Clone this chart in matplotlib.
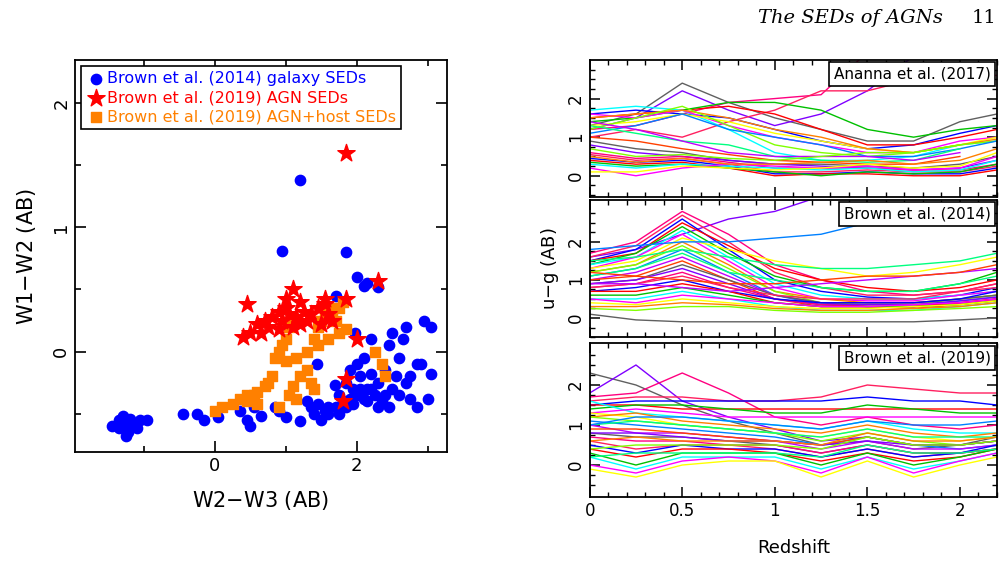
import matplotlib
matplotlib.use("Agg")
import matplotlib.pyplot as plt
import numpy as np

# ---------------- left panel data ----------------
gal_x = [-1.45,-1.35,-1.3,-1.28,-1.25,-1.2,-1.22,-1.15,-1.1,-1.05,-0.95,-1.3,-1.2,-1.35,-1.25,
         -0.45,-0.25,-0.15,0.05,0.35,0.45,0.55,0.5,0.65,0.85,0.9,1.0,1.2,1.3,1.35,1.4,1.45,1.5,1.55,
         1.6,1.7,1.75,1.8,1.85,1.9,1.95,2.0,2.05,2.1,2.15,2.2,2.25,2.3,2.35,2.4,2.5,2.6,2.7,2.75,2.85,
         3.0,3.05,2.9,2.75,2.6,2.4,2.2,2.1,2.0,1.9,2.2,2.45,2.65,2.7,2.85,3.05,2.95,2.55,2.15,1.85,1.6,
         2.3,2.45,1.2,0.95,1.85,2.0,2.1,2.15,2.3,1.7,1.44,1.69,1.97,2.49,1.95,1.75,2.05]
gal_y = [-0.6,-0.55,-0.58,-0.62,-0.55,-0.6,-0.65,-0.58,-0.62,-0.55,-0.55,-0.52,-0.54,-0.62,-0.68,
         -0.5,-0.5,-0.55,-0.53,-0.48,-0.55,-0.45,-0.6,-0.52,-0.45,-0.48,-0.53,-0.56,-0.4,-0.45,-0.5,-0.42,-0.55,-0.48,
         -0.5,-0.45,-0.35,-0.4,-0.45,-0.38,-0.42,-0.35,-0.3,-0.38,-0.4,-0.3,-0.35,-0.25,-0.4,-0.35,-0.3,-0.35,-0.25,-0.38,-0.45,
         -0.38,-0.18,-0.1,-0.2,-0.05,-0.15,-0.18,-0.05,-0.1,-0.15,0.1,0.05,0.1,0.2,-0.1,0.2,0.25,-0.2,-0.3,-0.25,-0.45,
         -0.45,-0.45,1.38,0.81,0.8,0.6,0.53,0.55,0.52,0.45,-0.1,-0.27,0.15,0.15,-0.3,-0.5,-0.2]
agn_x = [1.85,2.3,1.85,2.0,1.85,1.8,0.45,0.4,0.5,0.6,0.7,0.65,0.8,0.75,0.9,0.95,1.0,1.05,1.1,1.1,
         1.15,1.2,1.25,1.3,1.35,1.45,1.55,1.6,1.5,1.65,1.0,0.9,1.2,1.55]
agn_y = [1.6,0.57,0.42,0.1,-0.22,-0.4,0.38,0.12,0.15,0.22,0.25,0.15,0.28,0.2,0.32,0.25,0.35,0.3,0.5,0.2,
         0.28,0.4,0.32,0.25,0.3,0.35,0.38,0.3,0.22,0.25,0.42,0.18,0.22,0.42]
host_x = [0.0,0.1,0.35,0.45,0.45,0.55,0.6,0.7,0.75,0.8,0.85,0.9,0.95,1.0,1.05,1.1,0.9,1.05,1.1,1.15,
          1.2,1.15,1.3,1.3,1.35,1.4,1.45,1.5,1.55,1.6,1.65,1.7,1.75,1.8,1.75,1.85,1.45,1.6,2.25,2.35,
          2.4,1.0,1.4,0.25,0.6]
host_y = [-0.48,-0.45,-0.38,-0.4,-0.35,-0.35,-0.33,-0.28,-0.25,-0.2,-0.05,0.0,0.05,0.1,0.2,0.25,-0.45,-0.35,-0.28,-0.38,
          -0.2,-0.05,0.0,-0.15,-0.25,0.1,0.2,0.25,0.3,0.35,0.3,0.25,0.35,0.4,0.15,0.18,0.05,0.1,0.0,-0.1,
          -0.2,-0.08,-0.3,-0.42,-0.42]

# ---------------- right panel data ----------------
z = [0.0,0.25,0.5,0.75,1.0,1.25,1.5,1.75,2.0,2.2]
nan = np.nan
ananna = [
 [1.3,1.6,2.4,1.9,1.5,1.2,0.9,0.9,1.4,1.6],
 [1.2,1.5,2.2,1.7,1.3,1.6,2.2,3.1,nan,nan],
 [1.2,1.3,1.6,1.9,2.0,2.1,3.2,3.4,nan,nan],
 [1.0,1.2,1.0,1.4,1.7,2.2,2.2,2.5,2.6,2.6],
 [1.6,1.7,1.6,1.5,1.2,0.9,0.7,0.8,1.1,1.3],
 [1.5,1.6,1.7,1.8,1.6,1.2,0.8,0.8,1.0,1.2],
 [1.4,1.5,1.7,1.9,1.9,1.7,1.2,1.0,1.2,1.3],
 [1.7,1.8,1.7,1.2,0.6,0.4,0.4,0.5,0.8,0.9],
 [1.6,1.5,1.7,1.3,1.0,0.8,0.6,0.6,0.9,1.0],
 [1.3,1.4,1.6,1.4,1.1,0.9,0.7,0.6,0.8,1.0],
 [1.5,1.6,1.7,1.5,1.2,1.0,0.7,0.6,0.8,0.95],
 [1.2,1.5,1.8,1.3,0.8,0.6,0.5,0.6,0.8,0.9],
 [1.1,1.3,1.6,1.2,1.0,0.8,0.5,0.5,0.7,0.9],
 [1.3,1.1,0.9,0.8,0.5,0.4,0.35,0.4,0.7,nan],
 [1.4,1.2,0.9,0.6,0.5,0.5,0.5,0.4,0.6,nan],
 [1.0,0.9,0.7,0.55,0.4,0.35,0.3,0.3,0.5,nan],
 [0.9,0.7,0.6,0.4,0.3,0.3,0.25,0.2,0.3,0.5],
 [0.8,0.6,0.5,0.4,0.3,0.25,0.2,0.15,0.2,0.4],
 [0.6,0.45,0.5,0.35,0.2,0.2,0.2,0.15,0.15,0.3],
 [0.55,0.4,0.45,0.3,0.1,0.1,0.15,0.1,0.1,0.25],
 [0.45,0.35,0.4,0.25,0.05,0.05,0.1,0.05,0.05,0.2],
 [0.4,0.3,0.35,0.2,0.0,0.05,0.05,0.0,0.0,0.15],
 [0.35,0.25,0.3,0.2,0.1,0.0,0.1,0.05,0.1,0.3],
 [0.3,0.2,0.3,0.25,0.2,0.15,0.2,0.1,0.15,0.4],
 [0.2,0.0,0.2,0.3,0.25,0.2,0.25,0.15,0.2,0.5],
 [0.1,0.1,0.25,0.2,0.15,0.2,0.3,0.2,0.25,0.6],
 [0.5,0.35,0.45,0.3,0.3,0.35,0.4,0.3,0.4,0.7],
 [0.7,0.5,0.55,0.45,0.4,0.5,0.6,0.6,0.8,nan],
]
brown14 = [
 [0.1,-0.05,-0.1,-0.1,-0.1,-0.1,-0.1,-0.1,-0.05,0.0],
 [1.6,1.8,2.2,2.6,2.8,3.2,nan,nan,nan,nan],
 [1.7,2.0,2.8,2.2,1.4,1.0,0.7,0.6,0.7,0.9],
 [1.6,1.9,2.7,2.0,1.2,0.8,0.6,0.6,0.7,0.9],
 [1.5,1.8,2.6,1.8,1.0,0.7,0.55,0.5,0.6,0.8],
 [1.5,1.7,2.5,1.9,1.3,1.0,0.8,0.7,0.8,1.0],
 [1.4,1.7,2.4,1.7,1.1,0.8,0.7,0.7,0.9,1.2],
 [1.4,1.6,2.3,1.6,0.9,0.6,0.5,0.5,0.6,0.7],
 [1.3,1.6,2.2,1.5,0.8,0.5,0.45,0.45,0.6,0.7],
 [1.3,1.5,2.1,1.8,1.5,1.3,1.1,1.2,1.4,1.6],
 [1.2,1.4,2.0,1.4,0.7,0.5,0.4,0.4,0.5,0.6],
 [1.2,1.4,1.9,1.3,0.7,0.4,0.35,0.35,0.5,0.6],
 [1.1,1.3,1.8,1.2,0.6,0.35,0.3,0.3,0.45,0.55],
 [1.1,1.3,1.7,1.2,1.0,0.8,0.7,0.7,0.9,1.1],
 [1.0,1.2,1.6,1.1,0.6,0.4,0.3,0.3,0.4,0.5],
 [1.0,1.1,1.5,1.0,0.5,0.3,0.3,0.25,0.35,0.45],
 [0.9,1.0,1.4,1.0,0.6,0.4,0.4,0.4,0.5,0.6],
 [0.9,1.0,1.3,0.9,0.5,0.35,0.35,0.35,0.45,0.55],
 [0.8,0.9,1.2,0.8,0.5,0.35,0.3,0.3,0.4,0.5],
 [0.8,0.9,1.1,0.8,0.6,0.5,0.5,0.5,0.7,0.8],
 [0.7,0.8,1.0,0.7,0.5,0.4,0.4,0.4,0.5,0.7],
 [0.7,0.7,0.9,0.7,0.4,0.3,0.3,0.3,0.4,0.5],
 [0.6,0.6,0.8,0.6,0.4,0.3,0.3,0.3,0.35,0.45],
 [0.5,0.5,0.7,0.5,0.3,0.2,0.2,0.2,0.3,0.4],
 [0.5,0.4,0.6,0.5,0.4,0.3,0.3,0.35,0.4,0.5],
 [0.4,0.35,0.5,0.4,0.3,0.25,0.25,0.3,0.35,0.45],
 [0.3,0.3,0.4,0.35,0.25,0.2,0.2,0.25,0.3,0.4],
 [0.25,0.2,0.3,0.3,0.2,0.15,0.15,0.2,0.25,0.3],
 [1.8,1.9,2.0,2.0,2.1,2.2,2.5,2.9,nan,nan],
 [1.5,1.6,1.8,1.6,1.4,1.3,1.3,1.4,1.5,1.7],
 [0.9,0.9,0.8,0.7,0.8,0.9,1.0,1.1,1.2,1.3],
 [1.2,1.1,1.0,0.9,0.9,1.0,1.1,1.1,1.2,1.4],
]
brown19 = [
 [2.3,2.0,1.5,1.1,0.8,0.5,0.6,0.4,0.5,0.7],
 [1.8,2.5,1.6,1.2,0.9,0.6,0.7,0.5,0.5,0.6],
 [1.7,1.8,2.3,1.8,1.2,1.0,1.2,1.0,0.9,1.0],
 [1.6,1.7,1.7,1.6,1.6,1.7,2.0,1.9,1.8,1.8],
 [1.5,1.6,1.6,1.6,1.6,1.6,1.7,1.6,1.6,1.5],
 [1.5,1.5,1.4,1.4,1.4,1.4,1.4,1.4,1.4,1.4],
 [1.4,1.5,1.5,1.4,1.3,1.3,1.5,1.4,1.3,1.3],
 [1.6,1.3,1.2,1.1,1.0,0.9,1.1,0.9,0.8,0.8],
 [1.3,1.4,1.3,1.2,1.2,1.2,1.2,1.2,1.2,1.2],
 [1.3,1.2,1.0,0.9,0.8,0.7,0.9,0.7,0.6,0.7],
 [1.2,1.3,1.1,1.0,0.9,0.8,1.0,0.8,0.7,0.8],
 [1.2,1.1,1.0,0.9,0.8,0.6,0.8,0.6,0.5,0.6],
 [1.1,1.0,0.9,0.8,0.7,0.5,0.7,0.5,0.4,0.5],
 [1.0,1.1,1.0,0.9,0.8,0.7,0.9,0.7,0.7,0.7],
 [1.0,0.8,0.8,0.7,0.6,0.4,0.6,0.4,0.4,0.5],
 [0.9,0.9,0.8,0.7,0.6,0.5,0.7,0.5,0.5,0.6],
 [0.8,0.7,0.7,0.6,0.5,0.3,0.5,0.3,0.3,0.4],
 [0.8,0.8,0.7,0.6,0.6,0.5,0.6,0.5,0.5,0.6],
 [0.7,0.6,0.6,0.5,0.5,0.3,0.5,0.3,0.3,0.4],
 [0.6,0.4,0.5,0.5,0.4,0.2,0.4,0.2,0.3,0.4],
 [0.5,0.3,0.5,0.4,0.4,0.2,0.4,0.2,0.3,0.5],
 [0.4,0.2,0.4,0.4,0.3,0.1,0.3,0.1,0.2,0.4],
 [0.3,0.0,0.3,0.3,0.3,0.0,0.3,0.0,0.2,0.4],
 [0.2,-0.1,0.2,0.2,0.2,-0.1,0.2,-0.1,0.1,0.3],
 [0.0,-0.2,0.1,0.2,0.1,-0.2,0.2,-0.2,0.1,0.3],
 [-0.1,-0.3,0.0,0.1,0.1,-0.3,0.1,-0.3,0.0,0.2],
 [0.6,0.7,0.6,0.6,0.6,0.5,0.8,0.6,0.6,0.7],
 [0.4,0.5,0.5,0.5,0.5,0.4,0.7,0.5,0.5,0.6],
 [1.0,1.2,1.2,1.1,1.0,0.9,1.1,1.0,1.0,1.1],
 [0.2,0.3,0.3,0.3,0.3,0.2,0.5,0.3,0.3,0.4],
]

line_colors = ['#606060','#8000ff','#ff0080','#ff2060','#0000ff','#ff0000','#00c000','#00ffff',
               '#ff00ff','#ffff00','#ff8000','#80ff00','#0080ff','#00ff80','#c000ff','#ff4000']

fig = plt.figure(figsize=(10.08, 5.69), dpi=100)
plt.rcParams['font.family'] = ['DejaVu Sans']

def style(ax):
    ax.tick_params(direction='in', which='both', top=True, right=True, labelsize=13)
    for s in ax.spines.values():
        s.set_linewidth(1.3)

# left
ax = fig.add_axes([0.0744, 0.2056, 0.369, 0.689])
ax.scatter(gal_x, gal_y, s=55, c='#0000ff', marker='o', label='Brown et al. (2014) galaxy SEDs', zorder=3)
ax.scatter(agn_x, agn_y, s=170, c='#ff0000', marker='*', label='Brown et al. (2019) AGN SEDs', zorder=5)
ax.scatter(host_x, host_y, s=55, c='#ff8000', marker='s', label='Brown et al. (2019) AGN+host SEDs', zorder=4)
ax.set_xlim(-1.97, 3.27)
ax.set_ylim(-0.81, 2.35)
ax.set_xticks([0, 2]); ax.set_yticks([0, 1, 2])
ax.set_xticks([-1, 1, 3], minor=True)
ax.set_yticks([-0.5, 0.5, 1.5], minor=True)
style(ax)
ax.tick_params(which='major', length=8, width=1.2)
ax.tick_params(which='minor', length=4, width=1.2)
for lab in ax.get_yticklabels():
    lab.set_rotation(90); lab.set_va('center')
ax.set_xlabel('W2$-$W3 (AB)', fontsize=15, labelpad=10)
ax.set_ylabel('W1$-$W2 (AB)', fontsize=15, labelpad=10)
leg = ax.legend(loc='upper left', fontsize=11.5, handletextpad=0.1, borderpad=0.3,
                labelspacing=0.25, fancybox=False, edgecolor='black', framealpha=1,
                handlelength=1.2, scatterpoints=1, borderaxespad=0.4)
leg.get_frame().set_linewidth(1.2)
for t, c in zip(leg.get_texts(), ['#0000ff', '#ff0000', '#ff8000']):
    t.set_color(c)

# right
panels = [
    (ananna, 'Ananna et al. (2017)', [0.585, 0.6538, 0.404, 0.2408], (-0.55, 3.0)),
    (brown14, 'Brown et al. (2014)', [0.585, 0.4077, 0.404, 0.2408], (-0.45, 3.1)),
    (brown19, 'Brown et al. (2019)', [0.585, 0.1265, 0.404, 0.2707], (-0.8, 3.05)),
]
for i, (curves, title, rect, yl) in enumerate(panels):
    a = fig.add_axes(rect)
    for j, c in enumerate(curves):
        a.plot(z, c, color=line_colors[j % len(line_colors)], lw=1.0)
    a.set_xlim(0, 2.2)
    a.set_ylim(*yl)
    a.set_yticks([0, 1, 2])
    a.set_yticks(np.arange(-0.5, 3.0, 0.25), minor=True)
    a.set_xticks([0, 0.5, 1, 1.5, 2])
    a.set_xticks(np.arange(0, 2.25, 0.1), minor=True)
    style(a)
    a.tick_params(which='major', length=7, width=1.1, labelsize=12)
    a.tick_params(which='minor', length=3.5, width=1.0)
    for lab in a.get_yticklabels():
        lab.set_rotation(90); lab.set_va('center')
    if i < 2:
        a.set_xticklabels([])
    else:
        a.set_xticklabels(['0', '0.5', '1', '1.5', '2'])
        a.set_xlabel('Redshift', fontsize=13, labelpad=14)
    if i == 1:
        a.set_ylabel('u$-$g (AB)', fontsize=13)
    a.text(0.985, 0.9, title, transform=a.transAxes, ha='right', va='center', fontsize=11,
           bbox=dict(facecolor='white', edgecolor='black', linewidth=1.2, boxstyle='square,pad=0.3'),
           zorder=10)

fig.text(0.935, 0.968, 'The SEDs of AGNs', family='DejaVu Serif', style='italic', fontsize=14, ha='right', va='center')
fig.text(0.988, 0.968, '11', family='DejaVu Serif', fontsize=14, ha='right', va='center')

fig.savefig('out.png', dpi=100)
